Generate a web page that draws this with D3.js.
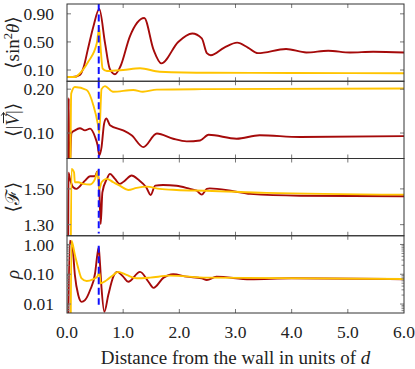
<!DOCTYPE html>
<html>
<head>
<meta charset="utf-8">
<script src="https://cdn.jsdelivr.net/npm/d3@7"></script>
<style>
  body { margin: 0; background: #fff; }
  svg { display: block; }
</style>
</head>
<body>
<div id="chart"></div>
<script>

// x ticks (distance from the wall)
let xTicks = [0, 1, 2, 3, 4, 5, 6];
let wallMark = 0.565;

// <sin^2 theta>
let sinRed = [[0,0.0],[0.10,0.0],[0.23,0.03],[0.30,0.15],[0.37,0.39],[0.47,0.72],[0.575,0.97],[0.676,0.49],[0.76,0.12],[0.854,0.04],[0.95,0.15],[1.12,0.58],[1.375,0.84],[1.54,0.39],[1.68,0.195],[1.98,0.50],[2.23,0.62],[2.40,0.55],[2.49,0.34],[2.56,0.31],[2.80,0.42],[3.03,0.49],[3.22,0.42],[3.40,0.34],[3.90,0.40],[4.26,0.35],[4.65,0.375],[5.04,0.35],[5.45,0.36],[6.0,0.35]];
let sinGold = [[0,0.0],[0.14,0.0],[0.2,0.03],[0.38,0.22],[0.53,0.48],[0.575,0.70],[0.60,0.40],[0.635,0.12],[0.71,0.085],[1.0,0.10],[1.30,0.125],[1.65,0.075],[2.54,0.06],[4.0,0.058],[6.0,0.053]];

// <|V|>
let velRed = [[0.025,0.0],[0.03,0.18],[0.04,0.0],[0.08,0.10],[0.14,0.106],[0.23,0.111],[0.32,0.106],[0.41,0.11],[0.50,0.091],[0.545,0.072],[0.575,0.049],[0.615,0.068],[0.66,0.121],[0.70,0.133],[0.765,0.118],[1.0,0.106],[1.15,0.095],[1.36,0.068],[1.60,0.099],[1.89,0.087],[2.13,0.081],[2.37,0.083],[2.52,0.096],[3.02,0.087],[3.43,0.095],[4.15,0.091],[6.0,0.093]];
let velGold = [[0.06,0.0],[0.075,0.19],[0.14,0.205],[0.35,0.198],[0.47,0.163],[0.55,0.12],[0.575,0.10],[0.615,0.20],[0.675,0.207],[0.82,0.194],[1.18,0.198],[1.35,0.194],[1.6,0.199],[2.4,0.20],[6.0,0.2015]];

// <F>
let fRed = [[0.02,1.0],[0.027,1.59],[0.05,1.56],[0.11,1.509],[0.17,1.50],[0.23,1.515],[0.32,1.546],[0.41,1.571],[0.50,1.571],[0.54,1.597],[0.575,1.50],[0.60,1.304],[0.63,1.481],[0.71,1.556],[0.765,1.584],[0.854,1.556],[0.94,1.528],[1.03,1.546],[1.15,1.575],[1.27,1.552],[1.41,1.509],[1.49,1.466],[1.57,1.518],[1.71,1.522],[1.95,1.518],[2.19,1.50],[2.31,1.49],[2.40,1.468],[2.49,1.50],[2.54,1.503],[2.96,1.487],[3.26,1.472],[4.15,1.462],[6.0,1.459]];
let fGold = [[0.065,1.0],[0.08,1.612],[0.125,1.593],[0.14,1.537],[0.2,1.537],[0.29,1.528],[0.41,1.525],[0.50,1.556],[0.545,1.597],[0.575,1.50],[0.615,1.537],[0.71,1.556],[0.825,1.537],[0.94,1.518],[1.09,1.494],[1.24,1.506],[1.42,1.513],[1.65,1.50],[1.95,1.494],[2.49,1.490],[3.55,1.478],[6.0,1.468]];

// rho
let rhoRed = [[0.02,0.001],[0.05,1.33],[0.10,0.76],[0.14,0.095],[0.20,0.020],[0.26,0.0118],[0.32,0.0135],[0.41,0.029],[0.50,0.108],[0.54,0.45],[0.565,0.8],[0.585,0.27],[0.615,0.034],[0.665,0.0055],[0.735,0.020],[0.825,0.083],[0.895,0.12],[1.0,0.083],[1.09,0.056],[1.30,0.12],[1.45,0.056],[1.54,0.035],[1.72,0.077],[1.89,0.10],[2.13,0.083],[2.40,0.073],[2.49,0.064],[2.66,0.083],[3.26,0.068],[4.0,0.073],[6.0,0.068]];
let rhoGold = [[0.065,0.001],[0.08,1.33],[0.14,0.45],[0.20,0.16],[0.26,0.073],[0.35,0.059],[0.47,0.069],[0.54,0.083],[0.575,0.12],[0.60,0.050],[0.71,0.064],[0.825,0.095],[0.91,0.12],[1.06,0.095],[1.24,0.073],[1.48,0.077],[1.83,0.09],[2.49,0.077],[6.0,0.069]];

let sinTicks = [0.10, 0.50, 0.90];
let velTicks = [0.10, 0.20];
let fTicks = [1.30, 1.50];
let rhoTicks = [0.01, 0.10, 1.00];

let width = 415;
let height = 369;
let plotLeft = 67, plotRight = 404, plotTop = 4, panelH = 77.25;
let red = "#a50a0a", gold = "#ffc400", blue = "#1010ff";
let font = "Liberation Serif, DejaVu Serif, serif";

let panels = [
    { red: sinRed, gold: sinGold, ticks: sinTicks, domain: [-0.06, 1.04], log: false, dash: [-0.06, 1.04] },
    { red: velRed, gold: velGold, ticks: velTicks, domain: [0.042, 0.218], log: false, dash: [0.042, 0.218] },
    { red: fRed, gold: fGold, ticks: fTicks, domain: [1.238, 1.67], log: false, dash: [1.25, 1.612] },
    { red: rhoRed, gold: rhoGold, ticks: rhoTicks, domain: [0.005, 1.96], log: true, dash: [0.0095, 0.9] }
];

let svg = d3.select("#chart")
    .append("svg")
    .attr("width", width)
    .attr("height", height)
    .attr("style", "background-color:#fff");

let xScale = d3.scaleLinear()
    .domain([0, 6])
    .range([plotLeft, plotRight]);

panels.forEach(function (p, i) {
    let y0 = plotTop + i * panelH;
    let y1 = y0 + panelH;
    let yScale = (p.log ? d3.scaleLog() : d3.scaleLinear())
        .domain(p.domain)
        .range([y1, y0]);

    let g = svg.append("g");

    svg.append("clipPath")
        .attr("id", "clip" + i)
        .append("rect")
        .attr("x", plotLeft).attr("y", y0)
        .attr("width", plotRight - plotLeft).attr("height", panelH);

    let line = d3.line()
        .x(d => xScale(d[0]))
        .y(d => yScale(d[1]))
        .curve(d3.curveMonotoneX);

    let plot = g.append("g").attr("clip-path", "url(#clip" + i + ")");

    plot.append("path")
        .datum(p.red)
        .attr("d", line)
        .attr("fill", "none")
        .attr("stroke", red)
        .attr("stroke-width", 1.9)
        .attr("stroke-linejoin", "round");

    plot.append("path")
        .datum(p.gold)
        .attr("d", line)
        .attr("fill", "none")
        .attr("stroke", gold)
        .attr("stroke-width", 1.9)
        .attr("stroke-linejoin", "round");

    // wall marker
    plot.append("line")
        .attr("x1", xScale(wallMark)).attr("x2", xScale(wallMark))
        .attr("y1", yScale(p.dash[1])).attr("y2", yScale(p.dash[0]))
        .attr("stroke", blue)
        .attr("stroke-width", 2)
        .attr("stroke-dasharray", "7,3.5");

    /* ticks */
    xTicks.slice(1, -1).forEach(function (t) {
        g.append("line").attr("x1", xScale(t)).attr("x2", xScale(t))
            .attr("y1", y0).attr("y2", y0 + 4).attr("stroke", "#777");
        g.append("line").attr("x1", xScale(t)).attr("x2", xScale(t))
            .attr("y1", y1).attr("y2", y1 - 4).attr("stroke", "#777");
    });

    p.ticks.forEach(function (t) {
        g.append("line").attr("x1", plotLeft).attr("x2", plotLeft + 4)
            .attr("y1", yScale(t)).attr("y2", yScale(t)).attr("stroke", "#777");
        g.append("line").attr("x1", plotRight).attr("x2", plotRight - 4)
            .attr("y1", yScale(t)).attr("y2", yScale(t)).attr("stroke", "#777");
        g.append("text")
            .attr("x", plotLeft - 13)
            .attr("y", yScale(t))
            .attr("dy", "0.35em")
            .attr("text-anchor", "end")
            .attr("font-family", font)
            .attr("font-size", 17.5)
            .attr("fill", "#222")
            .text(d3.format(".2f")(t));
    });

    if (p.log) {
        let minor = [];
        [0.001, 0.01, 0.1, 1].forEach(function (e) {
            for (let k = 2; k < 10; k++) minor.push(k * e);
        });
        minor.filter(v => v > p.domain[0] && v < p.domain[1]).forEach(function (t) {
            g.append("line").attr("x1", plotLeft).attr("x2", plotLeft + 2.5)
                .attr("y1", yScale(t)).attr("y2", yScale(t)).attr("stroke", "#888");
            g.append("line").attr("x1", plotRight).attr("x2", plotRight - 2.5)
                .attr("y1", yScale(t)).attr("y2", yScale(t)).attr("stroke", "#888");
        });
    }

    // frame
    g.append("rect")
        .attr("x", plotLeft).attr("y", y0)
        .attr("width", plotRight - plotLeft).attr("height", panelH)
        .attr("fill", "none")
        .attr("stroke", "#333")
        .attr("stroke-width", 1);
});

/* x axis labels */
let plotBottom = plotTop + 4 * panelH;
xTicks.forEach(function (t) {
    svg.append("text")
        .attr("x", xScale(t))
        .attr("y", plotBottom + 25)
        .attr("text-anchor", "middle")
        .attr("font-family", font)
        .attr("font-size", 17.5)
        .attr("fill", "#222")
        .text(d3.format(".1f")(t));
});

let xLabel = svg.append("text")
    .attr("x", (plotLeft + plotRight) / 2)
    .attr("y", plotBottom + 51)
    .attr("text-anchor", "middle")
    .attr("font-family", font)
    .attr("font-size", 19)
    .attr("fill", "#222");
xLabel.append("tspan").text("Distance from the wall in units of ");
xLabel.append("tspan").attr("font-style", "italic").text("d");

/* y axis labels */
function yLabel(i) {
    let cy = plotTop + i * panelH + panelH / 2;
    let lg = svg.append("g")
        .attr("transform", "translate(19," + cy + ") rotate(-90)");
    let txt = lg.append("text")
        .attr("text-anchor", "middle")
        .attr("font-family", font)
        .attr("font-size", 19)
        .attr("fill", "#222");
    return { g: lg, text: txt };
}

let l0 = yLabel(0).text;
l0.append("tspan").text("\u27E8sin");
l0.append("tspan").attr("font-size", 12.5).attr("dy", -7).text("2");
l0.append("tspan").attr("font-style", "italic").attr("dy", 7).text("\u03B8");
l0.append("tspan").text("\u27E9");

let l1 = yLabel(1);
l1.text.append("tspan").text("\u27E8|");
l1.text.append("tspan").attr("font-style", "italic").text("V");
l1.text.append("tspan").text("|\u27E9");
// vector arrow over V
let vNode = l1.text.node();
let vs = vNode.getStartPositionOfChar(2).x;
let ve = vNode.getEndPositionOfChar(2).x;
let ax0 = vs + 2.5, ax1 = ve + 1.5, ay = -15.5;
l1.g.append("path")
    .attr("d", "M" + ax0 + "," + ay + "H" + ax1 + "M" + (ax1 - 3) + "," + (ay - 2.2) + "L" + ax1 + "," + ay + "L" + (ax1 - 3) + "," + (ay + 2.2))
    .attr("fill", "none")
    .attr("stroke", "#222")
    .attr("stroke-width", 1);

let l2 = yLabel(2).text;
l2.append("tspan").text("\u27E8");
l2.append("tspan").text("\u2131");
l2.append("tspan").text("\u27E9");

let l3 = yLabel(3).text;
l3.append("tspan").attr("font-style", "italic").text("\u03C1");

</script>
</body>
</html>
